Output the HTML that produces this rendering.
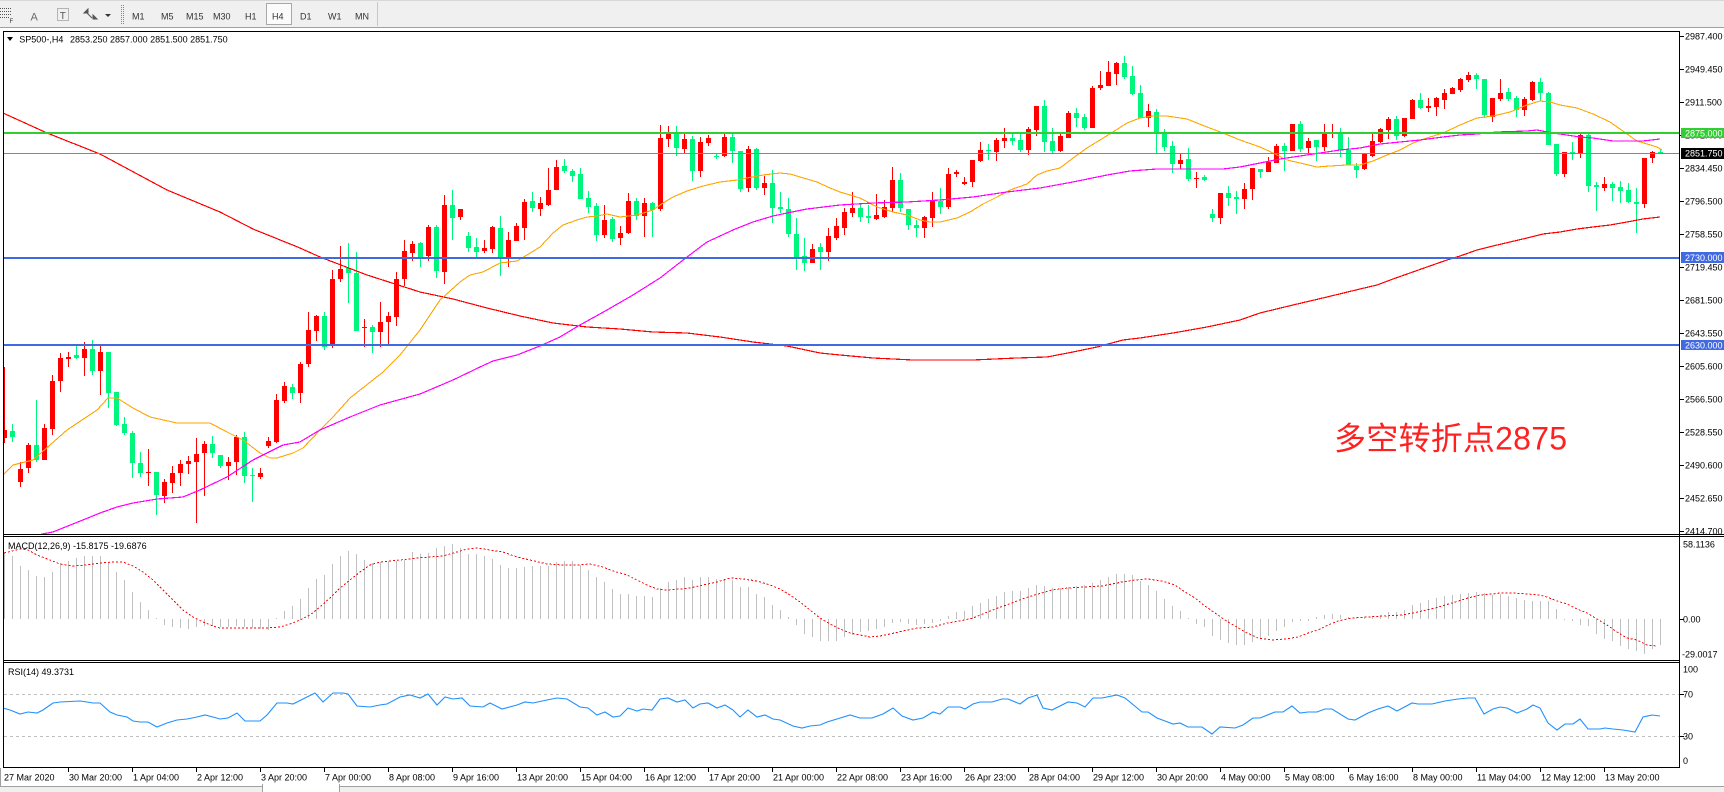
<!DOCTYPE html>
<html><head><meta charset="utf-8">
<style>
html,body{margin:0;padding:0;background:#fff;width:1724px;height:792px;overflow:hidden}
svg{display:block}
text{font-family:"Liberation Sans",Arial,sans-serif;font-size:9px;fill:#000}
</style></head><body>
<svg id="c" width="1724" height="792" viewBox="0 0 1724 792" xmlns="http://www.w3.org/2000/svg">
<defs>
<clipPath id="cm"><rect x="4" y="32" width="1675.5" height="502"/></clipPath>
<clipPath id="cd"><rect x="4" y="537" width="1675.5" height="123"/></clipPath>
<clipPath id="cr"><rect x="4" y="663" width="1675.5" height="104"/></clipPath>
</defs>
<rect x="0" y="0" width="1724" height="792" fill="#fff"/>

<!-- toolbar -->
<rect x="0" y="0" width="1724" height="28" fill="#F0F0F0"/>
<line x1="0" y1="0.5" x2="1724" y2="0.5" stroke="#D8D8D8"/>
<line x1="0" y1="27.5" x2="1724" y2="27.5" stroke="#A0A0A0"/>
<g shape-rendering="crispEdges" stroke="#555" stroke-dasharray="1,1">
<line x1="0" y1="8.5" x2="11" y2="8.5"/><line x1="0" y1="11.5" x2="11" y2="11.5"/><line x1="0" y1="14.5" x2="11" y2="14.5"/><line x1="0" y1="17.5" x2="9" y2="17.5"/>
<rect x="57.5" y="8.5" width="11" height="12" fill="none" stroke="#777"/>
<line x1="121.5" y1="5" x2="121.5" y2="24" stroke="#888"/>
<line x1="123.5" y1="5" x2="123.5" y2="24" stroke="#888"/>
</g>
<text x="9.5" y="23" style="font-size:6px;fill:#333">F</text>
<text x="30.5" y="20.5" style="font-size:11px;fill:#6a6a6a">A</text>
<text x="59.8" y="19" style="font-size:10px;fill:#555">T</text>
<path d="M84 13 L88 9 L88 13 Z M86 12 L92 18 M93 15 L97 19 L93 19 Z" fill="#555" stroke="#555" stroke-width="1"/>
<polygon points="105,14 111,14 108,17" fill="#333"/>
<rect x="266.5" y="3.5" width="25" height="21" fill="#FBFBFB" stroke="#A8A8A8"/>
<g style="fill:#333">
<text x="132" y="19.5" style="fill:#333">M1</text>
<text x="161" y="19.5" style="fill:#333">M5</text>
<text x="186" y="19.5" style="fill:#333">M15</text>
<text x="213" y="19.5" style="fill:#333">M30</text>
<text x="245" y="19.5" style="fill:#333">H1</text>
<text x="272" y="19.5" style="fill:#333">H4</text>
<text x="300" y="19.5" style="fill:#333">D1</text>
<text x="328" y="19.5" style="fill:#333">W1</text>
<text x="355" y="19.5" style="fill:#333">MN</text>
</g>
<line x1="377.5" y1="2" x2="377.5" y2="26" stroke="#C8C8C8"/>

<!-- main chart content -->
<g clip-path="url(#cm)" shape-rendering="crispEdges">
<g id="candles"></g>
<polyline fill="none" stroke="#FF0000" stroke-width="1.2" points="3,113 47,133 100,154 167,190 220,212 253,229 300,248 320,257 367,275 420,292 453,299 487,308 520,316 553,323 587,327 620,329 653,332 687,333 720,337 753,342 787,346 820,353 840,355 873,358 913,360 973,360 1017,358 1047,357 1073,352 1097,347 1123,340 1140,338 1173,333 1207,327 1240,320 1260,313 1293,305 1327,297 1360,289 1377,285 1393,279 1410,273 1427,267 1447,260 1460,256 1477,250 1493,246 1510,242 1527,238 1543,234 1560,232 1577,229 1593,227 1610,225 1627,222 1643,219 1660,217"/>
<polyline fill="none" stroke="#FFA500" stroke-width="1.1" points="3,475 13,465 33,460 50,445 67,430 97,410 108,398 117,398 133,408 150,417 177,423 210,423 227,432 243,440 260,453 270,458 277,458 293,453 303,448 320,430 333,417 350,398 383,372 400,355 420,330 440,300 460,282 470,275 483,272 500,263 517,261 527,255 540,247 553,233 563,225 577,220 587,217 597,216 607,214 620,217 637,215 653,210 663,203 673,197 687,191 703,186 720,182 737,180 747,178 763,175 780,173 790,174 800,177 817,182 830,188 840,192 860,198 877,207 893,212 907,215 920,220 930,222 940,222 957,218 970,212 983,204 997,197 1010,190 1027,184 1037,175 1047,171 1060,168 1073,158 1087,148 1100,140 1113,132 1127,123 1140,118 1153,116 1167,116 1187,119 1207,127 1223,133 1240,140 1260,147 1273,153 1287,160 1300,163 1317,167 1330,166 1347,165 1360,165 1373,161 1387,155 1400,150 1413,143 1427,138 1443,133 1460,125 1477,118 1493,116 1510,112 1527,105 1540,101 1550,102 1560,105 1577,108 1593,114 1610,122 1627,134 1637,141 1647,144 1657,147 1662,150"/>
<polyline fill="none" stroke="#FF00FF" stroke-width="1.2" points="36,537 42,534 53,532 83,520 100,513 117,507 133,503 157,499 183,497 200,490 227,477 253,460 283,445 300,442 320,430 350,417 380,405 420,394 453,380 480,367 493,361 517,355 540,346 560,337 580,325 607,310 633,295 660,278 687,257 707,242 733,230 753,222 773,216 787,213 807,209 840,205 873,203 907,202 940,200 973,197 1007,192 1040,188 1073,182 1107,175 1130,171 1157,169 1223,169 1240,167 1260,163 1280,159 1300,156 1320,153 1340,150 1360,148 1380,144 1400,142 1420,140 1443,137 1460,135 1477,134 1497,132 1527,131 1537,130 1547,132 1560,134 1580,137 1593,138 1613,141 1643,141 1660,139"/>
<rect x="4" y="132" width="1676" height="2" fill="#32CD32"/>
<rect x="4" y="153" width="1676" height="1" fill="#7A8A99"/>
<rect x="4" y="257" width="1676" height="2" fill="#4169E1"/>
<rect x="4" y="344" width="1676" height="2" fill="#4169E1"/>
</g>

<text x="1334" y="449.5" textLength="233" lengthAdjust="spacing" style="font-family:'Liberation Sans','Noto Sans CJK SC',sans-serif;font-size:32px;fill:#FF2020">多空转折点2875</text>

<!-- title -->
<polygon points="7,37 13,37 10,41" fill="#000"/>
<text x="19.3" y="42.5">SP500-,H4</text>
<text x="70" y="42.5">2853.250 2857.000 2851.500 2851.750</text>

<!-- MACD -->
<g clip-path="url(#cd)" shape-rendering="crispEdges">
<g id="macd"></g>
<polyline fill="none" stroke="#FF0000" stroke-width="1" stroke-dasharray="2,2" points="4,553 20,549 28,550 37,555 50,560 60,564 73,566 87,565 100,563 113,562 123,562 133,566 143,572 153,580 163,590 173,600 183,610 193,617 203,622 213,626 220,628 233,628 250,628 267,628 280,627 290,624 300,620 310,615 320,607 330,598 340,588 350,580 360,572 370,565 380,562 390,561 400,560 417,558 430,557 443,556 457,552 467,549 477,548 490,550 503,552 517,557 530,560 547,564 563,565 577,565 590,564 603,567 613,571 627,575 637,580 647,585 657,589 667,590 680,589 690,588 703,585 717,582 730,578 743,579 757,581 770,585 780,589 790,595 800,602 810,610 820,618 830,624 840,629 850,633 860,635 870,637 880,636 890,634 903,631 917,628 933,627 947,623 960,621 973,618 985,613 998,608 1012,603 1025,598 1038,594 1052,590 1068,588 1085,587 1102,586 1112,584 1122,582 1135,580 1148,579 1162,581 1175,585 1185,592 1195,598 1205,606 1215,613 1225,620 1235,626 1245,632 1258,638 1272,640 1285,639 1298,637 1308,633 1318,630 1328,625 1338,621 1352,618 1368,617 1385,616 1402,615 1418,612 1435,608 1452,603 1468,598 1480,595 1493,594 1500,593 1513,593 1527,594 1540,595 1547,597 1557,601 1567,604 1577,609 1587,613 1597,619 1607,625 1617,632 1627,638 1637,640 1647,645 1657,646"/>
</g>
<text x="8" y="549">MACD(12,26,9) -15.8175 -19.6876</text>

<!-- RSI -->
<g clip-path="url(#cr)">
<line x1="4" y1="694.5" x2="1680" y2="694.5" stroke="#C0C0C0" stroke-dasharray="3,3" shape-rendering="crispEdges"/>
<line x1="4" y1="736.5" x2="1680" y2="736.5" stroke="#C0C0C0" stroke-dasharray="3,3" shape-rendering="crispEdges"/>
<polyline fill="none" stroke="#1E90FF" stroke-width="1.1" points="3,708 10,710 20,714 28,712 37,713 43,710 53,703 60,702 80,701 87,702 93,703 100,703 110,712 117,715 127,717 133,721 140,722 148,722 157,727 167,723 177,720 187,719 197,717 205,715 213,717 220,719 228,718 237,713 245,721 260,721 267,715 277,703 287,703 293,704 307,697 315,693 323,702 333,693 343,693 348,694 357,706 370,707 380,705 387,704 400,697 410,695 420,698 428,694 437,705 445,697 453,699 462,698 470,706 483,707 490,703 502,709 517,705 525,702 533,703 547,700 557,698 567,699 580,707 588,708 597,715 605,712 613,717 620,716 628,708 637,711 643,709 652,710 660,699 668,698 677,702 685,700 693,708 700,704 708,703 717,708 725,705 733,710 740,717 748,710 757,717 765,715 773,719 780,720 793,726 802,728 810,726 820,725 827,722 837,719 850,715 860,718 872,718 883,714 893,708 902,716 913,720 923,718 933,712 940,714 948,707 960,707 965,709 973,704 980,702 992,702 1002,699 1008,699 1020,704 1028,698 1037,695 1043,708 1052,710 1068,702 1077,703 1085,707 1093,698 1102,698 1117,695 1125,698 1142,712 1148,712 1157,718 1165,721 1173,724 1180,723 1188,727 1202,727 1212,734 1220,727 1235,728 1243,725 1253,718 1260,718 1275,712 1283,712 1292,706 1300,713 1308,712 1317,712 1325,709 1332,709 1348,719 1355,720 1368,713 1378,709 1388,706 1397,711 1412,703 1418,704 1432,704 1445,701 1458,699 1468,698 1475,698 1480,707 1484,714 1493,709 1500,707 1507,708 1517,713 1527,709 1533,705 1540,708 1548,723 1557,730 1565,724 1573,724 1580,719 1588,729 1600,729 1605,728 1613,729 1623,730 1635,732 1643,717 1652,715 1660,716"/>
</g>
<text x="8" y="675">RSI(14) 49.3731</text>

<!-- frames -->
<g stroke="#000" stroke-width="1" shape-rendering="crispEdges" fill="none">
<line x1="3" y1="31.5" x2="1680" y2="31.5"/>
<line x1="3.5" y1="31" x2="3.5" y2="768"/>
<line x1="1679.5" y1="31" x2="1679.5" y2="768"/>
<line x1="3" y1="534.5" x2="1724" y2="534.5"/>
<line x1="3" y1="536.5" x2="1724" y2="536.5"/>
<line x1="3" y1="660.5" x2="1680" y2="660.5"/>
<line x1="3" y1="662.5" x2="1680" y2="662.5"/>
<line x1="3" y1="767.5" x2="1680" y2="767.5"/>
<path id="ticks" d=""/>
</g>

<!-- price axis labels -->
<g>
<text x="1685" y="39.3">2987.400</text>
<text x="1685" y="72.3">2949.450</text>
<text x="1685" y="105.3">2911.500</text>
<text x="1685" y="138.3">2872.400</text>
<text x="1685" y="171.3">2834.450</text>
<text x="1685" y="204.3">2796.500</text>
<text x="1685" y="237.3">2758.550</text>
<text x="1685" y="270.3">2719.450</text>
<text x="1685" y="303.3">2681.500</text>
<text x="1685" y="336.3">2643.550</text>
<text x="1685" y="369.3">2605.600</text>
<text x="1685" y="402.3">2566.500</text>
<text x="1685" y="435.3">2528.550</text>
<text x="1685" y="468.3">2490.600</text>
<text x="1685" y="501.3">2452.650</text>
<text x="1685" y="534.3">2414.700</text>
</g>
<rect x="1681" y="128" width="43" height="10" fill="#32CD32"/>
<text x="1685" y="136.6" style="fill:#fff">2875.000</text>
<rect x="1681" y="148" width="43" height="11" fill="#000"/>
<text x="1685" y="156.6" style="fill:#fff">2851.750</text>
<rect x="1681" y="252" width="43" height="11" fill="#4169E1"/>
<text x="1685" y="260.8" style="fill:#fff">2730.000</text>
<rect x="1681" y="340" width="43" height="10" fill="#4169E1"/>
<text x="1685" y="348.4" style="fill:#fff">2630.000</text>

<text x="1683" y="547.5">58.1136</text>
<text x="1683" y="622.5">0.00</text>
<text x="1682" y="657.5">-29.0017</text>
<text x="1683" y="672.5">100</text>
<text x="1683" y="697.5">70</text>
<text x="1683" y="739.5">30</text>
<text x="1683" y="764">0</text>

<!-- time axis labels -->
<g>
<text x="4" y="780.5">27 Mar 2020</text>
<text x="69" y="780.5">30 Mar 20:00</text>
<text x="133" y="780.5">1 Apr 04:00</text>
<text x="197" y="780.5">2 Apr 12:00</text>
<text x="261" y="780.5">3 Apr 20:00</text>
<text x="325" y="780.5">7 Apr 00:00</text>
<text x="389" y="780.5">8 Apr 08:00</text>
<text x="453" y="780.5">9 Apr 16:00</text>
<text x="517" y="780.5">13 Apr 20:00</text>
<text x="581" y="780.5">15 Apr 04:00</text>
<text x="645" y="780.5">16 Apr 12:00</text>
<text x="709" y="780.5">17 Apr 20:00</text>
<text x="773" y="780.5">21 Apr 00:00</text>
<text x="837" y="780.5">22 Apr 08:00</text>
<text x="901" y="780.5">23 Apr 16:00</text>
<text x="965" y="780.5">26 Apr 23:00</text>
<text x="1029" y="780.5">28 Apr 04:00</text>
<text x="1093" y="780.5">29 Apr 12:00</text>
<text x="1157" y="780.5">30 Apr 20:00</text>
<text x="1221" y="780.5">4 May 00:00</text>
<text x="1285" y="780.5">5 May 08:00</text>
<text x="1349" y="780.5">6 May 16:00</text>
<text x="1413" y="780.5">8 May 00:00</text>
<text x="1477" y="780.5">11 May 04:00</text>
<text x="1541" y="780.5">12 May 12:00</text>
<text x="1605" y="780.5">13 May 20:00</text>
</g>

<!-- bottom tab bar -->
<rect x="0" y="786" width="1724" height="6" fill="#F0F0F0"/>
<line x1="0" y1="786.5" x2="262" y2="786.5" stroke="#A0A0A0" shape-rendering="crispEdges"/>
<line x1="340" y1="786.5" x2="1724" y2="786.5" stroke="#A0A0A0" shape-rendering="crispEdges"/>
<rect x="262" y="784" width="78" height="8" fill="#fff"/>
<line x1="262.5" y1="784" x2="262.5" y2="792" stroke="#A0A0A0" shape-rendering="crispEdges"/>
<line x1="339.5" y1="784" x2="339.5" y2="792" stroke="#A0A0A0" shape-rendering="crispEdges"/>
<line x1="0.5" y1="768" x2="0.5" y2="786" stroke="#A0A0A0" shape-rendering="crispEdges"/>
</svg>
<script>
(function(){
var NS="http://www.w3.org/2000/svg";
var segs=[
[30,0,"r 1200 1225 1010 1240,g 1203 1220 1183 1235,r 1317 1355 1295 1370,r 1245 1315 1240 1330,g 1245 1290 1110 1295,r 1195 1290 1183 1290,r 1053 1197 1035 1215,r 985 1052 970 1085,r 982 986 965 1010,g 975 985 948 988,r 958 983 935 1038,g 958 1022 930 1035,r 965 1022 948 1095,g 965 1090 965 1133,g 1085 1185 1085 1188,g 1183 1210 1162 1215,g 1210 1298 1203 1345,g 1300 1328 1267 1340,r 1326 1328 1257 1367,g 1327 1395 1327 1455,r 1357 1397 1347 1420,r 1330 1360 1308 1390,r 1303 1330 1290 1367,r 1293 1303 1277 1333,r 1273 1295 1223 1478,r 1243 1270 1233 1397,g 1243 1270 1218 1285,g 1275 1307 1275 1315,r 1297 1307 1280 1350,r 1220 1297 1215 1335,g 1222 1337 1205 1360,g 1336 1338 1313 1415,r 1330 1340 1315 1347,r 1233 1247 1220 1255,r 1110 1235 1092 1240,r 1068 1112 1055 1120,g 1071 1090 1062 1108,r 1003 1090 995 1118,r 900 1003 845 1010,r 858 902 855 932,g 858 950 845 960,r 747 948 720 955,r 717 748 648 757,g 713 730 638 820,g 730 902 665 902,r 891 894 868 952,g 891 905 885 970,r 877 905 815 952,r 858 875 845 948,r 747 860 727 887,r 663 748 630 768,r 643 668 632 692"],
[100,52,"g 430 470 425 500,r 380 468 375 482,g 380 513 375 533,r 315 515 285 553,g 315 353 270 420,r 327 350 327 360,g 408 443 395 455,g 441 455 415 470,r 443 452 420 460,r 380 447 378 458,g 383 470 348 527,r 420 473 395 500,r 378 422 370 422,r 305 383 298 420,g 303 323 275 335,r 310 327 292 347,r 270 315 205 318,r 200 270 180 270,g 198 213 177 218,g 212 228 207 245,g 222 297 205 297,g 293 320 273 340,g 318 405 308 422,r 360 405 315 413,g 357 417 352 425,r 398 415 378 435,r 303 400 280 402,g 302 348 293 360,r 308 347 295 412,g 308 330 305 410,r 113 328 75 333,r 100 116 78 140,g 100 143 78 167,r 118 147 100 160,g 118 213 108 242,r 125 213 110 232,r 113 128 105 138,g 169 171 158 178,r 110 168 100 170,g 110 153 100 188,g 153 267 153 275,r 147 265 138 275,g 147 265 143 270,r 248 263 228 285,g 248 323 210 368,g 320 328 275 340,g 327 402 295 412,g 402 470 353 510,g 467 488 413 513,r 447 488 432 488,g 440 455 430 510,r 408 455 383 483,r 378 413 353 420"],
[45,105,"r 500 548 490 570,r 488 503 440 515,g 488 515 478 530,g 513 520 480 533,r 510 522 448 525,r 486 515 465 520,r 405 488 365 500,g 405 490 383 500,g 492 540 492 555,g 540 550 525 575,r 517 548 513 578,r 467 518 440 545,g 467 485 430 507,r 387 486 368 492,r 381 388 376 395,r 411 418 395 420,r 345 410 345 425,r 315 348 290 350,g 314 319 298 345,r 285 320 280 347,r 280 287 248 308,g 279 287 268 300,g 285 315 265 322,r 252 315 245 330,r 183 255 183 272,g 183 290 165 322,g 288 318 248 325,r 272 318 265 322,r 203 278 197 278,g 203 220 188 245,g 215 248 207 255,r 128 248 122 248,r 120 130 77 135,r 82 123 47 123,r 53 86 50 120,g 53 95 33 102,g 93 147 63 150,g 143 218 120 220,r 198 218 177 245,g 200 268 192 325,g 265 305 252 318,g 303 358 288 383,r 345 357 327 373,g 342 402 310 407,r 399 401 380 430,g 395 406 390 407,g 507 520 493 530,r 444 518 444 537,g 444 458 422 483,g 456 461 437 507,r 432 461 413 492,r 369 432 369 465"],
[55,157,"g 342 350 342 370,r 322 350 307 350,r 272 323 267 323,g 273 288 263 347,r 207 287 207 287,g 207 282 197 290,r 257 280 248 297,g 255 275 255 317,r 233 275 207 287,r 235 238 207 248,g 232 285 218 307,g 285 330 245 330,g 332 345 323 370,r 298 342 295 345,r 258 303 235 307,r 222 262 218 265,r 192 225 185 253,g 192 242 183 255,r 188 242 188 245,r 135 192 132 192,g 135 158 113 162,r 153 158 130 170,r 130 155 125 182,r 113 135 103 162,r 98 116 95 117,r 72 105 68 110,r 60 75 50 80,g 60 73 53 102,g 72 180 72 188,r 128 185 128 200,r 113 133 73 138,g 110 133 98 137,g 128 165 123 185,r 132 165 127 183,r 80 135 78 137,g 80 115 68 137,g 113 270 110 270,g 267 357 267 362,r 290 357 290 365,g 290 293 262 315,r 240 293 237 308,g 240 393 237 410,g 390 395 380 467,r 387 398 367 407,g 387 398 380 437,g 397 407 378 443,g 405 440 383 443,g 441 448 400 533,r 308 447 308 458,r 290 308 287 323,g 292 296 283 296"]
];
var rp="",gp="";
segs.forEach(function(s){
  var off=s[0],i=s[1];
  s[2].split(",").forEach(function(c){
    var p=c.trim().split(/\s+/);
    var bt=Math.round(off+(+p[1])/3),bb=Math.round(off+(+p[2])/3),wt=Math.round(off+(+p[3])/3),wb=Math.round(off+(+p[4])/3);
    if(bb-bt<1)bb=bt+1; if(wb-wt<1)wb=wt+1;
    var x=8*i;
    var d="M"+(x+4)+" "+wt+"h1V"+wb+"h-1Z"+"M"+(x+2)+" "+bt+"h5V"+bb+"h-5Z";
    if(p[0]=="r")rp+=d;else gp+=d;
    i++;
  });
});
var g=document.getElementById("candles");
var e1=document.createElementNS(NS,"path");e1.setAttribute("d",rp);e1.setAttribute("fill","#FF0000");g.appendChild(e1);
var e2=document.createElementNS(NS,"path");e2.setAttribute("d",gp);e2.setAttribute("fill","#00F57F");g.appendChild(e2);

var m=[200,188,160,148,130,127,142,168,175,184,190,188,188,170,141,118,82,52,28,3,-17,-24,-28,-30,-25,-22,-22,-24,-24,-20,-24,-28,-30,-32,2,23,38,61,92,121,133,164,190,205,196,178,168,170,173,173,178,200,196,198,213,218,225,213,196,196,188,
181,163,154,152,156,158,158,160,170,175,175,163,148,125,112,91,76,76,70,70,67,93,110,118,127,118,125,127,120,120,118,97,97,76,65,43,27,5,-19,-44,-55,-65,-67,-65,-55,-47,-39,-37,-30,-25,-12,-10,-14,-17,-15,-12,-7,8,20,25,38,48,
61,70,80,85,85,93,103,100,93,93,95,98,101,108,116,125,136,136,131,113,103,83,61,38,23,1,-15,-25,-52,-62,-72,-77,-77,-69,-59,-52,-37,-25,-9,-7,-5,5,11,16,13,5,1,5,8,13,21,21,28,43,48,56,63,68,73,76,78,80,78,
73,75,70,63,58,53,55,55,31,-1,-7,-17,-22,-44,-59,-67,-80,-90,-97,-104,-89,-77,-64];
var md="";
for(var i=0;i<m.length&&i<208;i++){
  var h=m[i]/3,x=4+8*i,y1,y2;
  if(h>=0){y2=619;y1=Math.round(619-h);if(y2-y1<1)y1=y2-1;}
  else{y1=619;y2=Math.round(619-h);if(y2-y1<1)y2=y1+1;}
  md+="M"+x+" "+y1+"h1V"+y2+"h-1Z";
}
var mg=document.getElementById("macd");
var e3=document.createElementNS(NS,"path");e3.setAttribute("d",md);e3.setAttribute("fill","#C0C0C0");mg.appendChild(e3);

var t="";
[36,69,102,135,168,201,234,267,300,333,366,399,432,465,498,531].forEach(function(y){t+="M1680 "+(y+0.5)+"h4";});
[619,694,736].forEach(function(y){t+="M1680 "+(y+0.5)+"h4";});
for(var k=1;k<=25;k++){var x=4+64*k;t+="M"+(x+0.5)+" 768v4";}
document.getElementById("ticks").setAttribute("d",t);
})();
</script>
</body></html>
